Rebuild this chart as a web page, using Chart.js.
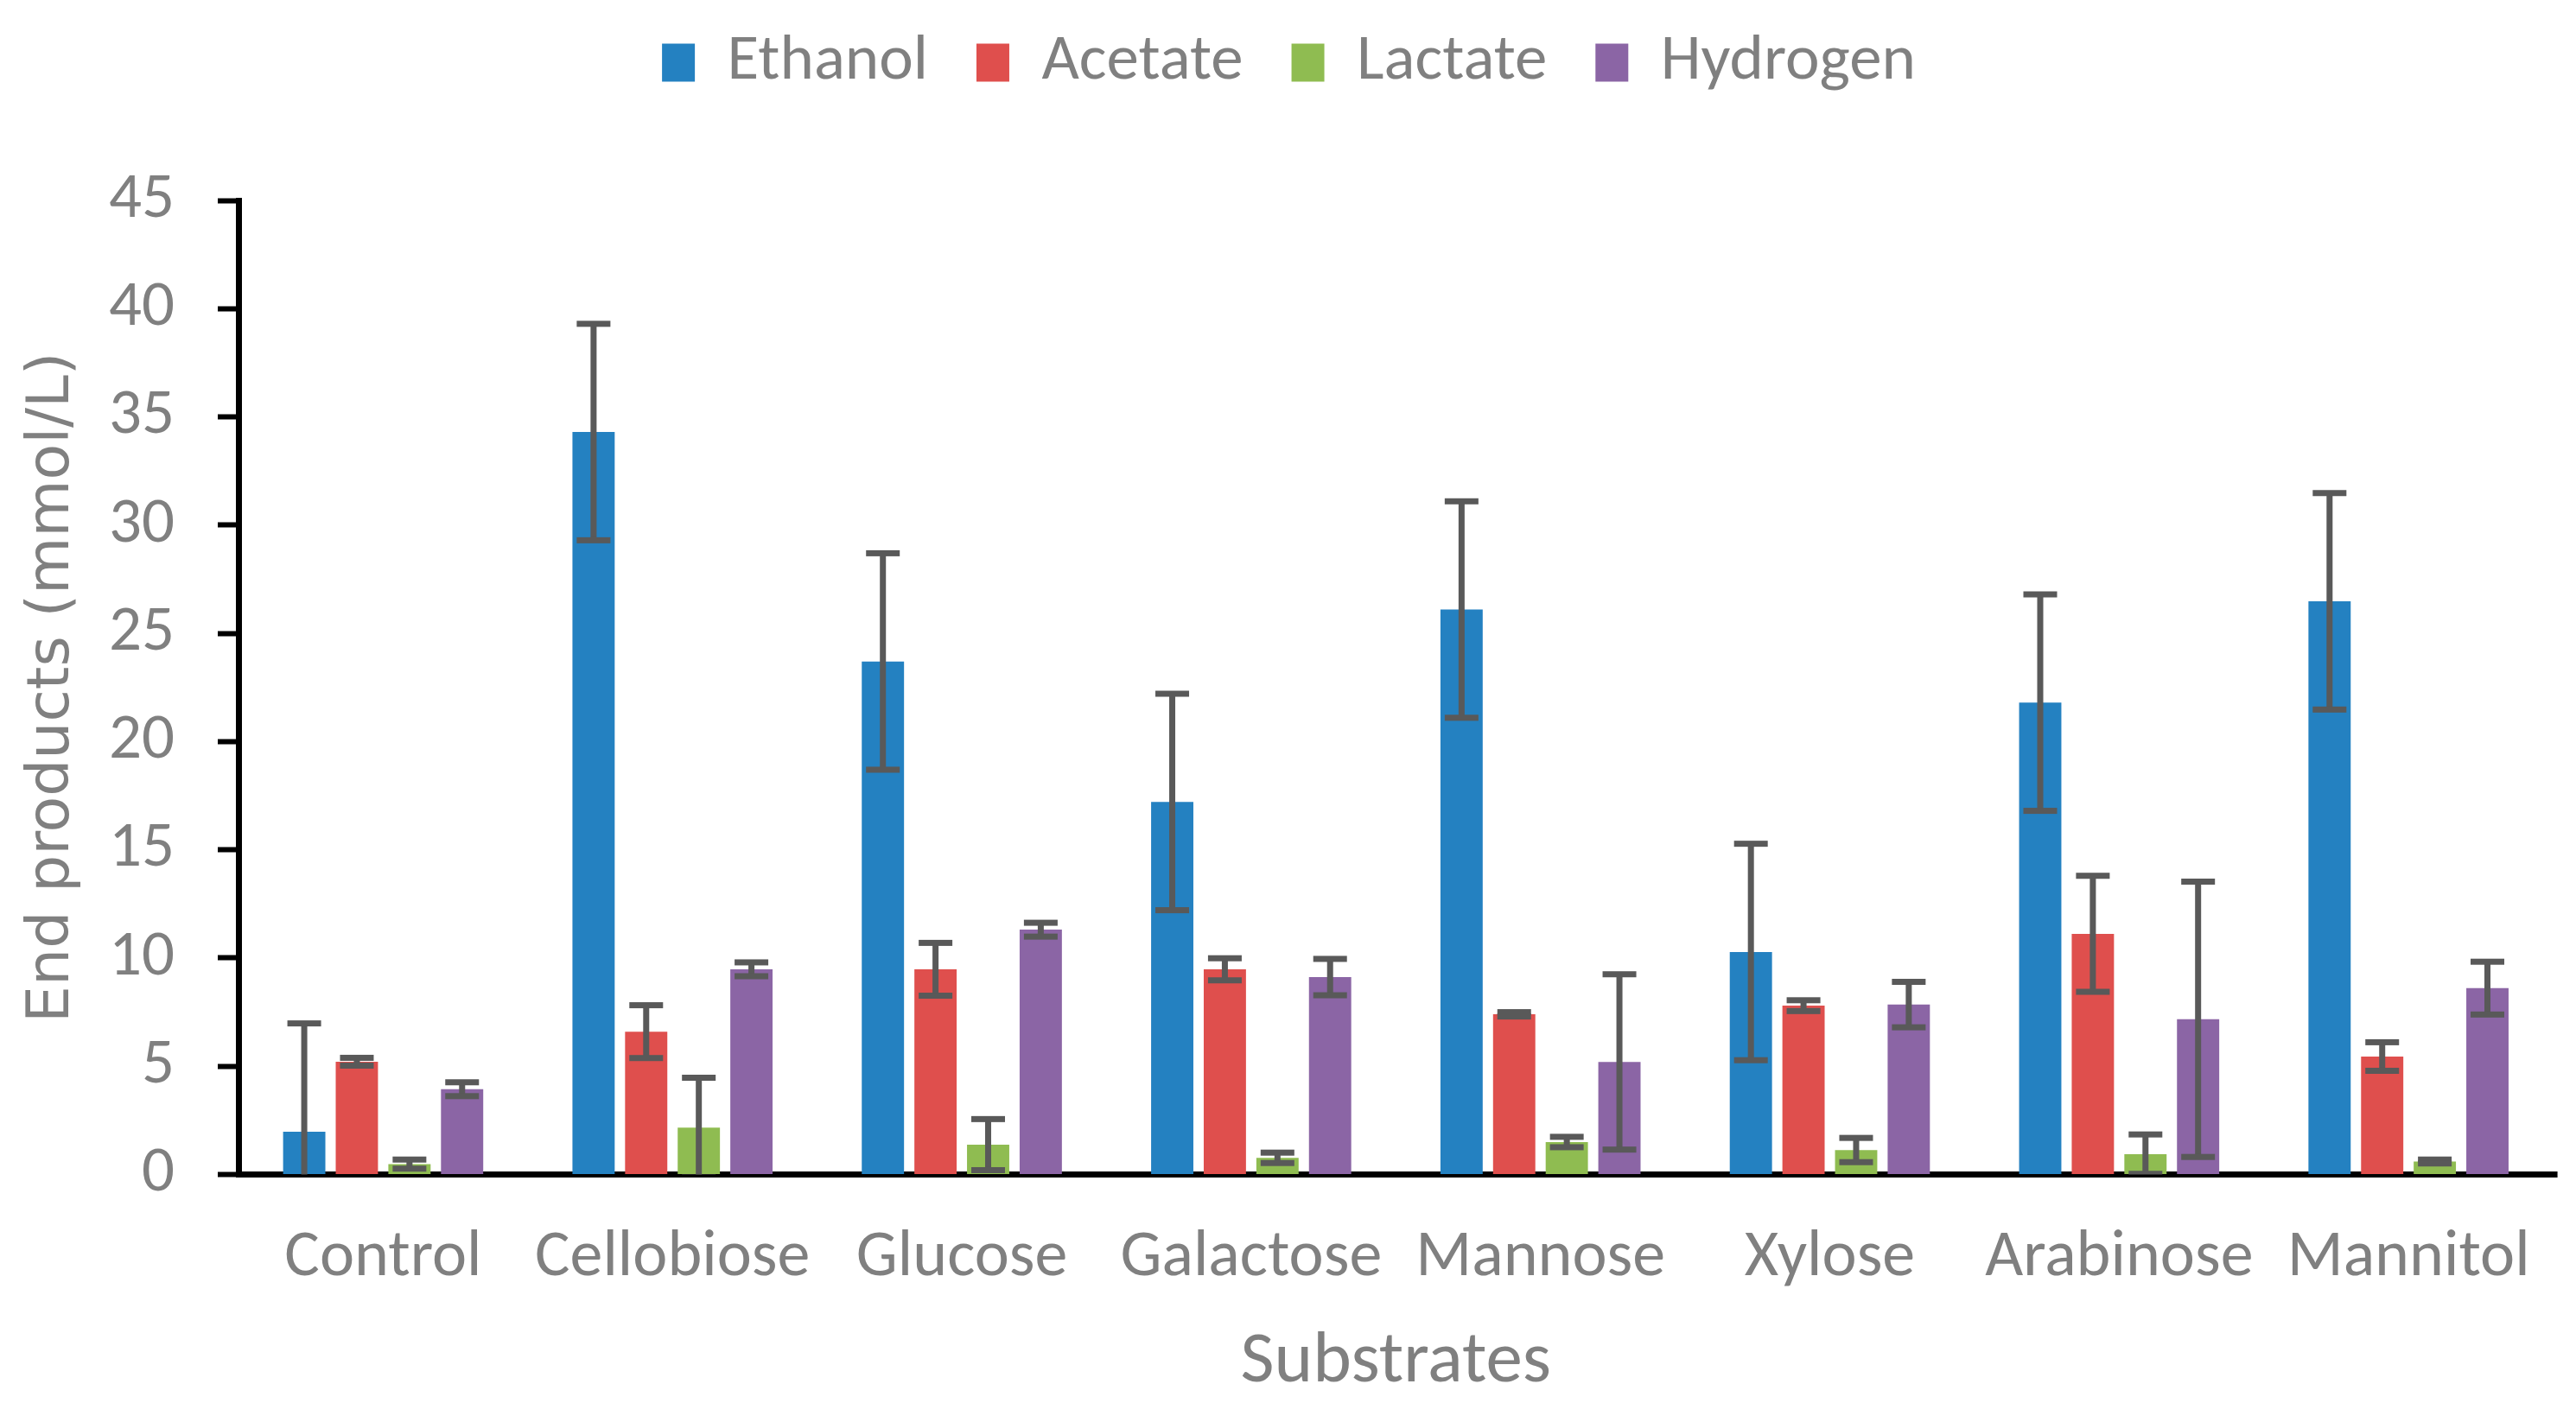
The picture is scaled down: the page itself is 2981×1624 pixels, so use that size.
<!DOCTYPE html>
<html>
<head>
<meta charset="utf-8">
<script src="https://cdn.jsdelivr.net/npm/chart.js@4/dist/chart.umd.min.js"></script>
<style>
  html, body { margin: 0; padding: 0; background: #ffffff; }
  #wrap { width: 2981px; height: 1624px; position: relative; }
</style>
</head>
<body>
<div id="wrap"><canvas id="c"></canvas></div>
<script>
const categories = ['Control', 'Cellobiose', 'Glucose', 'Galactose', 'Mannose', 'Xylose', 'Arabinose', 'Mannitol'];
const seriesNames = ['Ethanol', 'Acetate', 'Lactate', 'Hydrogen'];
const ethanol  = [1.98, 34.30, 23.70, 17.21, 26.10, 10.28, 21.80, 26.48];
const acetate  = [5.21, 6.60, 9.48, 9.48, 7.40, 7.80, 11.12, 5.45];
const lactate  = [0.48, 2.17, 1.38, 0.77, 1.50, 1.13, 0.94, 0.60];
const hydrogen = [3.94, 9.48, 11.31, 9.12, 5.20, 7.85, 7.17, 8.61];
const ethanolErr  = [5.0, 5.0, 5.0, 5.0, 5.0, 5.0, 5.0, 5.0];
const acetateErr  = [0.18, 1.22, 1.22, 0.51, 0.10, 0.25, 2.68, 0.66];
const lactateErr  = [0.21, 2.30, 1.18, 0.24, 0.24, 0.56, 0.91, 0.09];
const hydrogenErr = [0.32, 0.32, 0.32, 0.84, 4.05, 1.05, 6.36, 1.22];
const yTicks = [0, 5, 10, 15, 20, 25, 30, 35, 40, 45];
const colors = ['#2481c1', '#df4f4d', '#8fbc51', '#8b65a5'];

const values = [ethanol, acetate, lactate, hydrogen];
const errors = [ethanolErr, acetateErr, lactateErr, hydrogenErr];

const GREY = '#808080';
const LABEL_FONT = 'Carlito, Calibri, Lato, sans-serif';

const canvas = document.getElementById('c');
canvas.width = 2981; canvas.height = 1624;
canvas.style.width = '2981px'; canvas.style.height = '1624px';

const legendSpacing = {
  id: 'legendSpacing',
  beforeLayout(chart) {
    const lg = chart.legend;
    if (lg && !lg._patched) {
      const orig = lg.fit;
      lg.fit = function () { orig.call(this); this.height = 232; };
      lg._patched = true;
    }
  },
  afterLayout(chart) {
    const lg = chart.legend;
    if (lg) {
      const h = lg.height;
      lg.top = -21; lg.bottom = lg.top + h;
      lg.left += 12; lg.right += 12;
    }
  }
};

const errorBars = {
  id: 'errorBars',
  afterDatasetsDraw(chart) {
    const ctx = chart.ctx;
    const ys = chart.scales.y;
    const area = chart.chartArea;
    ctx.save();
    ctx.beginPath();
    ctx.rect(area.left, area.top - 20, area.right - area.left, area.bottom - area.top + 20);
    ctx.clip();
    ctx.fillStyle = '#595959';
    values.forEach((vals, di) => {
      const meta = chart.getDatasetMeta(di);
      meta.data.forEach((bar, i) => {
        const v = vals[i], e = errors[di][i];
        const x = bar.x;
        const yHi = ys.getPixelForValue(v + e);
        const yLo = ys.getPixelForValue(v - e);
        const lw = 7, cap = 39;
        ctx.fillRect(x - lw / 2, yHi, lw, yLo - yHi);
        ctx.fillRect(x - cap / 2, yHi - lw / 2, cap, lw);
        ctx.fillRect(x - cap / 2, yLo - lw / 2, cap, lw);
      });
    });
    ctx.restore();
  },
  afterDraw(chart) {
    const ctx = chart.ctx;
    const area = chart.chartArea;
    const y0 = chart.scales.y.getPixelForValue(0);
    ctx.save();
    ctx.fillStyle = '#000000';
    ctx.fillRect(area.right, y0 - 3.5, 5, 7);
    ctx.restore();
  }
};

new Chart(canvas, {
  type: 'bar',
  data: {
    labels: categories,
    datasets: seriesNames.map((name, i) => ({
      label: name,
      data: values[i],
      backgroundColor: colors[i],
      borderWidth: 0,
      categoryPercentage: 0.7275,
      barPercentage: 0.803
    }))
  },
  options: {
    responsive: false,
    animation: false,
    devicePixelRatio: 1,
    layout: { padding: { left: 0, right: 22, top: 0, bottom: 0 } },
    plugins: {
      legend: {
        position: 'top',
        labels: {
          color: GREY,
          font: { family: LABEL_FONT, size: 75 },
          boxWidth: 38,
          boxHeight: 44,
          padding: 56
        }
      },
      tooltip: { enabled: false }
    },
    scales: {
      x: {
        z: 1,
        grid: { display: false, drawOnChartArea: false, drawTicks: false },
        border: { display: true, color: '#000000', width: 7 },
        ticks: { color: GREY, font: { family: LABEL_FONT, size: 76 }, padding: 52, maxRotation: 0, autoSkip: false },
        title: { display: true, text: 'Substrates', color: GREY, font: { family: LABEL_FONT, size: 85, lineHeight: 1.1 }, padding: { top: 0, bottom: 0 } },
        afterFit(scale) { scale.height = 264.5; }
      },
      y: {
        z: 1,
        min: 0, max: 45,
        afterBuildTicks(scale) { scale.ticks = yTicks.map(v => ({ value: v })); },
        grid: { display: true, drawOnChartArea: false, drawTicks: true, tickLength: 24, tickWidth: 6, tickColor: '#000000' },
        border: { display: true, color: '#000000', width: 7 },
        ticks: { color: GREY, font: { family: LABEL_FONT, size: 75 }, padding: 50 },
        title: { display: true, text: 'End products (mmol/L)', color: GREY, font: { family: 'DejaVu Sans', size: 68, lineHeight: 1.2 }, padding: { top: 21, bottom: 0 } },
        afterFit(scale) { scale.width = 276; }
      }
    }
  },
  plugins: [legendSpacing, errorBars]
});
</script>
</body>
</html>
